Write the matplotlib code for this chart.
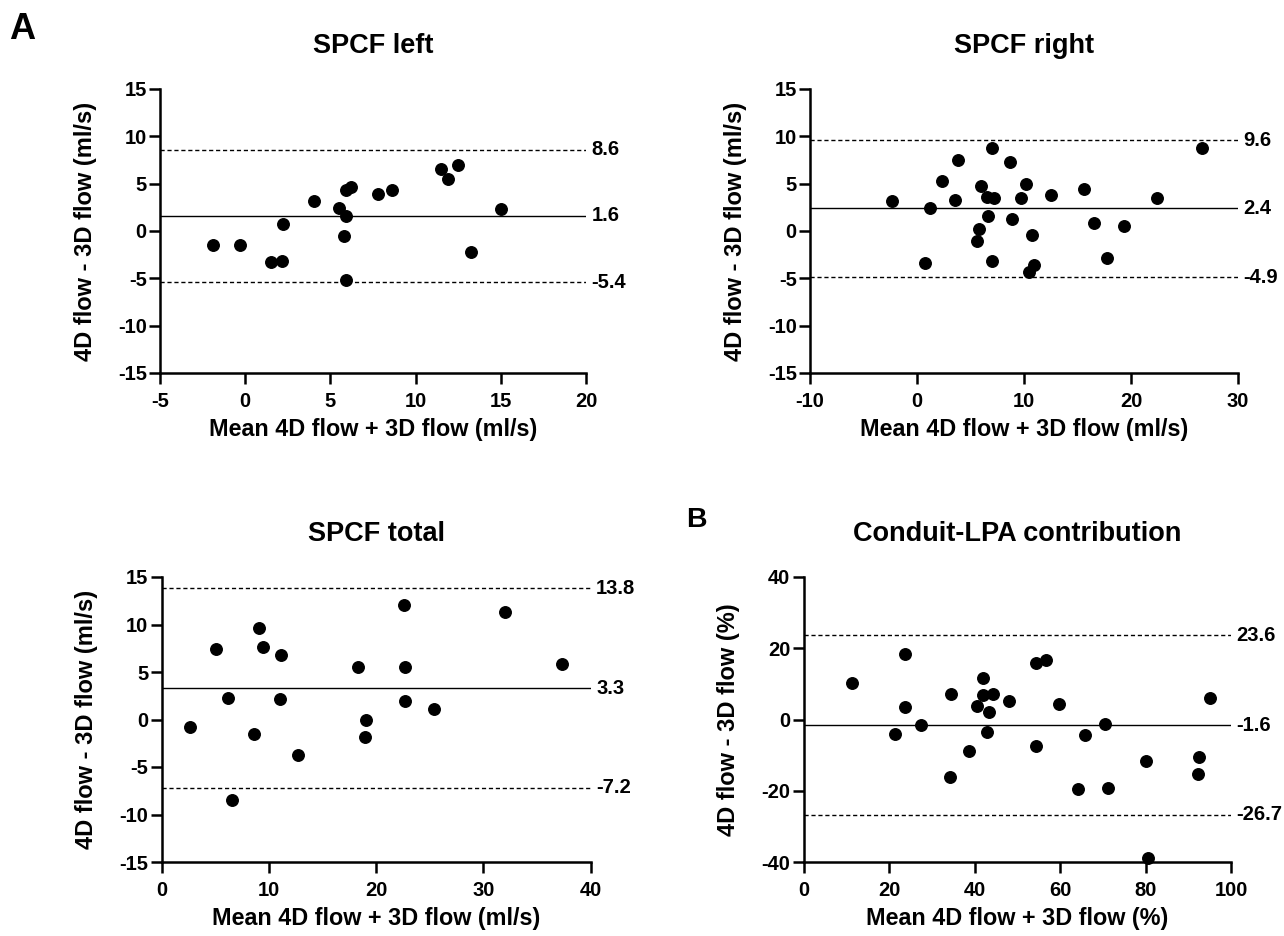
import matplotlib
matplotlib.use('Agg')
import matplotlib.pyplot as plt
import matplotlib.transforms as mtransforms

plt.rcParams['font.family'] = ['Liberation Sans', 'DejaVu Sans']
plt.rcParams['font.weight'] = 'bold'
plt.rcParams['axes.unicode_minus'] = False

# SPCF left
left_mean = [-1.91, -0.30, 1.52, 2.18, 2.20, 4.02, 5.53, 5.92, 5.81, 5.90,
             5.90, 6.20, 7.80, 8.61, 11.50, 11.88, 12.46, 13.27, 15.03]
left_diff = [-1.45, -1.45, -3.28, -3.18, 0.78, 3.18, 2.40, 1.62, -0.53, -5.19,
             4.31, 4.66, 3.88, 4.31, 6.53, 5.54, 6.99, -2.26, 2.29]
left_lines = [8.6, 1.6, -5.4]

# SPCF right
right_mean = [-2.34, 0.72, 1.25, 2.34, 3.59, 3.87, 5.61, 5.83, 6.02, 6.52,
              7.23, 6.61, 6.98, 7.02, 8.67, 8.86, 9.73, 10.17, 10.73, 10.91,
              10.51, 12.57, 15.65, 16.56, 17.74, 19.30, 22.42, 26.63]
right_diff = [3.15, -3.36, 2.45, 5.24, 3.32, 7.45, -1.05, 0.24, 4.79, 3.57,
              3.53, 1.54, 8.74, -3.22, 7.34, 1.26, 3.46, 4.97, -0.42, -3.60,
              -4.34, 3.81, 4.44, 0.80, -2.87, 0.56, 3.53, 8.81]
right_lines = [9.6, 2.4, -4.9]

# SPCF total
total_mean = [2.67, 5.07, 6.19, 6.56, 8.67, 9.08, 9.42, 11.04, 11.16, 12.71,
              18.34, 19.06, 19.02, 22.57, 22.66, 22.66, 25.40, 32.05, 37.30]
total_diff = [-0.74, 7.39, 2.28, -8.47, -1.54, 9.63, 7.67, 2.14, 6.79, -3.71,
              5.57, -0.03, -1.89, 12.01, 5.57, 2.00, 1.09, 11.31, 5.88]
total_lines = [13.8, 3.3, -7.2]

# Conduit-LPA contribution
lpa_mean = [11.38, 21.43, 23.69, 23.77, 27.59, 34.37, 34.45, 38.74, 40.53, 42.09,
            42.09, 44.35, 43.49, 42.95, 48.01, 54.48, 54.48, 56.82, 59.78, 64.15,
            65.86, 70.54, 71.24, 80.20, 80.51, 92.44, 92.28, 95.09]
lpa_diff = [10.32, -4.13, 18.39, 3.56, -1.41, -16.14, 7.04, -8.91, 3.66, 11.54,
            6.75, 7.04, 2.06, -3.38, 5.07, -7.32, 15.85, 16.70, 4.32, -19.61,
            -4.41, -1.13, -19.23, -11.54, -38.74, -10.51, -15.29, 6.00]
lpa_lines = [23.6, -1.6, -26.7]


def bland_altman(ax, x, y, lines, title, xlim, ylim, xticks, yticks, xlabel, ylabel):
    ax.plot(x, y, 'o', color='black', markersize=8.3, clip_on=False, zorder=5)
    trans = mtransforms.blended_transform_factory(ax.transAxes, ax.transData)
    for i, v in enumerate(lines):
        ls = '-' if i == 1 else (0, (3, 2))
        ax.axhline(v, color='black', lw=1.0, ls=ls, zorder=2)
        ax.annotate('%.1f' % v, xy=(1.0, v), xycoords=trans, xytext=(4, 0),
                    textcoords='offset points', va='center', ha='left',
                    fontsize=14.5, fontweight='bold', annotation_clip=False)
    ax.set_xlim(xlim)
    ax.set_ylim(ylim)
    ax.set_xticks(xticks)
    ax.set_yticks(yticks)
    ax.set_title(title, fontsize=19.5, fontweight='bold', pad=26)
    ax.set_xlabel(xlabel, fontsize=16.8, fontweight='bold', labelpad=5)
    ax.set_ylabel(ylabel, fontsize=17, fontweight='bold', labelpad=15)
    for s in ['top', 'right']:
        ax.spines[s].set_visible(False)
    for s in ['left', 'bottom']:
        ax.spines[s].set_linewidth(1.8)
    ax.tick_params(axis='both', direction='out', length=8, width=1.8, labelsize=14.5)
    ax.tick_params(axis='y', pad=1.5)
    ax.tick_params(axis='x', pad=6)
    for lab in ax.get_xticklabels() + ax.get_yticklabels():
        lab.set_fontweight('bold')


fig = plt.figure(figsize=(12.84, 9.36), dpi=100)
W, H = 1284.0, 936.0
ax1 = fig.add_axes([160 / W, 1 - 373 / H, 426 / W, 284 / H])
ax2 = fig.add_axes([810 / W, 1 - 373 / H, 428 / W, 284 / H])
ax3 = fig.add_axes([161.5 / W, 1 - 862 / H, 429 / W, 285 / H])
ax4 = fig.add_axes([803.5 / W, 1 - 862 / H, 427.5 / W, 285 / H])

bland_altman(ax1, left_mean, left_diff, left_lines, 'SPCF left', (-5, 20), (-15, 15),
             range(-5, 21, 5), range(-15, 16, 5),
             'Mean 4D flow + 3D flow (ml/s)', '4D flow - 3D flow (ml/s)')
bland_altman(ax2, right_mean, right_diff, right_lines, 'SPCF right', (-10, 30), (-15, 15),
             range(-10, 31, 10), range(-15, 16, 5),
             'Mean 4D flow + 3D flow (ml/s)', '4D flow - 3D flow (ml/s)')
bland_altman(ax3, total_mean, total_diff, total_lines, 'SPCF total', (0, 40), (-15, 15),
             range(0, 41, 10), range(-15, 16, 5),
             'Mean 4D flow + 3D flow (ml/s)', '4D flow - 3D flow (ml/s)')
bland_altman(ax4, lpa_mean, lpa_diff, lpa_lines, 'Conduit-LPA contribution', (0, 100), (-40, 40),
             range(0, 101, 20), range(-40, 41, 20),
             'Mean 4D flow + 3D flow (%)', '4D flow - 3D flow (%)')

fig.text(9 / W, 1 - 39 / H, 'A', fontsize=26, fontweight='bold', va='baseline')
fig.text(686 / W, 1 - 527 / H, 'B', fontsize=20.5, fontweight='bold', va='baseline')

fig.savefig('out.png', dpi=100)
